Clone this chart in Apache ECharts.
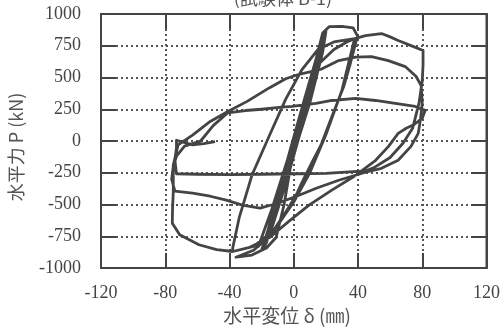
<!DOCTYPE html>
<html>
<head>
<meta charset="utf-8">
<script src="https://cdn.jsdelivr.net/npm/echarts@6/dist/echarts.min.js"></script>
<style>
  html, body { margin: 0; padding: 0; background: #fff; }
  #chart { width: 503px; height: 327px; }
</style>
</head>
<body>
<div id="chart"></div>
<script>
// tick values
const xTicks = [-120, -80, -40, 0, 40, 80, 120];
const yTicks = [-1000, -750, -500, -250, 0, 250, 500, 750, 1000];

// load path: [displacement mm, force kN]
const cycles20 = [
  [0, 0], [10, 450], [17, 780], [20, 860],
  [18, 700], [10, 300], [0, -100], [-10, -500], [-17, -800], [-19, -850],
  [-15, -650], [-5, -250], [5, 200], [13, 550], [20, 870],
  [16, 600], [7, 200], [-3, -250], [-12, -600], [-20, -860],
  [-16, -700], [-8, -350], [2, 100], [11, 500], [19, 840],
  [14, 520], [4, 80], [-6, -380], [-14, -700], [-22, -830]
];
const cycles40 = [
  [-14, -550], [-4, -150], [6, 300], [14, 650], [18, 850], [22, 900], [30, 902], [37, 890], [40, 820],
  [39, 795], [35, 600], [31, 425], [24, 200], [17, -31], [11.5, -165], [5, -330], [1.5, -425],
  [-5, -560], [-15, -750], [-25, -860], [-36, -915],
  [-26, -898], [-17, -843], [-11, -760], [-6, -500], [-2, -200], [3, 100], [8, 380], [15, 600],
  [25, 720], [33, 780], [38, 806],
  [37, 760], [30, 400], [20, 50], [10, -250], [0, -480], [-12, -700], [-25, -830], [-38, -870]
];
const cycle80a = [
  [-38, -843], [-34, -606], [-26, -268], [-15, 47], [-5, 330], [5, 560], [15, 720], [25, 780],
  [38, 806], [44.7, 830], [54.6, 846], [60, 820], [65, 791], [73, 751], [80.5, 712],
  [80.5, 600], [80, 474], [78, 300], [74, 100], [68, -18], [60, -130], [50, -210], [40, -260],
  [23.7, -387], [9.5, -505], [-2.9, -631], [-15, -760], [-28, -840], [-38, -870],
  [-48, -856], [-59, -817], [-71, -738], [-75.6, -647]
];
const cycle80b = [
  [-75.5, -550], [-75, -400], [-75, -190], [-72, -31], [-63, 47], [-52, 154], [-41, 233],
  [-29, 312], [-15, 420], [-5, 490], [2, 520], [17, 565], [28, 633], [38.5, 660], [48.4, 665],
  [58.9, 633], [69.4, 586], [76.2, 508], [79.3, 437],
  [80, 300], [79, 180], [77.5, 60], [73, -42], [65, -152], [54.6, -215], [44.7, -246],
  [28, -309], [14, -372], [3.3, -427], [-10, -490], [-21, -529], [-32, -505], [-42, -466],
  [-52, -435], [-63, -411], [-74, -395]
];
const cycle80c = [
  [-76, -300], [-75, -200], [-73, -120], [-68, -40], [-58, 0], [-50, 123], [-41, 222],
  [-30, 240], [-20, 250], [-9, 264], [-1, 272], [13.8, 296], [23.7, 319], [38.5, 335],
  [50.9, 319], [63.2, 296], [75.6, 272], [81.8, 241],
  [80, 180], [75, 130], [70, 100], [65, 60], [59, -42], [51, -152], [42, -238],
  [20, -255], [0, -258], [-20, -262], [-40, -265], [-60, -262], [-73, -258],
  [-74, -150], [-73, -50], [-73, 6], [-63, -31], [-56, -20], [-49, -5]
];

const path = [].concat(cycles20, cycles40, cycle80a, cycle80b, cycle80c);

const ink = '#444';
const serif = 'Liberation Serif';

const tickStyle = { show: true, inside: true, length: 15, lineStyle: { color: ink, width: 2 } };
const lineStyle = { show: true, onZero: false, lineStyle: { color: ink, width: 2 } };
const plainLabel = v => String(v);

const chart = echarts.init(document.getElementById('chart'), null, { renderer: 'canvas' });
chart.setOption({
  animation: false,
  backgroundColor: '#fff',
  grid: {
    left: 101, right: 15, top: 14, bottom: 59,
    show: true, borderColor: ink, borderWidth: 2, backgroundColor: 'transparent'
  },
  xAxis: [
    {
      type: 'value', min: xTicks[0], max: xTicks[xTicks.length - 1], interval: 40,
      axisLine: lineStyle,
      axisTick: tickStyle,
      axisLabel: { color: '#444', fontFamily: serif, fontSize: 18, margin: 16, formatter: plainLabel },
      splitLine: { show: true, lineStyle: { color: '#555', width: 2, type: [2, 3] } }
    },
    {
      type: 'value', position: 'top', min: xTicks[0], max: xTicks[xTicks.length - 1], interval: 40,
      axisLine: lineStyle,
      axisTick: tickStyle, axisLabel: { show: false }, splitLine: { show: false }
    }
  ],
  yAxis: [
    {
      type: 'value', min: yTicks[0], max: yTicks[yTicks.length - 1], interval: 250,
      axisLine: lineStyle,
      axisTick: tickStyle,
      axisLabel: { color: '#444', fontFamily: serif, fontSize: 18, margin: 20, formatter: plainLabel },
      splitLine: { show: true, lineStyle: { color: '#555', width: 2, type: [2, 3] } }
    },
    {
      type: 'value', position: 'right', min: yTicks[0], max: yTicks[yTicks.length - 1], interval: 250,
      axisLine: lineStyle,
      axisTick: tickStyle, axisLabel: { show: false }, splitLine: { show: false }
    }
  ],
  graphic: [
    {
      type: 'text', x: 283, y: 7,
      style: { text: '(試験体 B-1)', font: '18px "Noto Sans CJK JP"', fill: '#555', align: 'center', verticalAlign: 'bottom' }
    },
    {
      type: 'text', x: 16, y: 147, rotation: Math.PI / 2,
      style: { text: '水平力 P (kN)', font: '18px "Noto Sans CJK JP"', fill: '#555', align: 'center', verticalAlign: 'middle' }
    },
    {
      type: 'text', x: 287, y: 316,
      style: { text: '水平変位 δ (㎜)', font: '19px "Noto Sans CJK JP"', fill: '#555', align: 'center', verticalAlign: 'middle' }
    }
  ],
  series: [
    {
      type: 'line', data: path, showSymbol: false, smooth: false,
      lineStyle: { color: ink, width: 2.8, join: 'round' },
      emphasis: { disabled: true }
    }
  ]
});
</script>
</body>
</html>
